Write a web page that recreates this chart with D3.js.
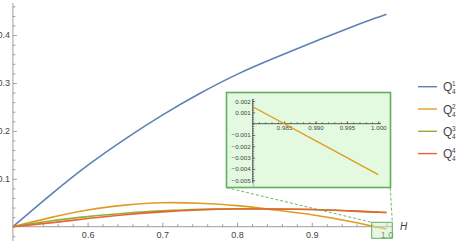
<!DOCTYPE html>
<html>
<head>
<meta charset="utf-8">
<script src="https://cdn.jsdelivr.net/npm/d3@7"></script>
<style>
  body { margin: 0; background: #fff; }
  svg { display: block; font-family: "Liberation Sans", Arial, sans-serif; }
</style>
</head>
<body>
<div id="chart"></div>
<script>
  (() => {
    // H grid and the four curves
    const hValues = [0.5, 0.55, 0.6, 0.65, 0.7, 0.75, 0.8, 0.85, 0.9, 0.95, 0.98, 0.99, 1.0];
    const q1 = [0, 0.066, 0.128, 0.183, 0.233, 0.278, 0.318, 0.352, 0.384, 0.415, 0.4325, 0.438, 0.4435];
    const q2 = [0, 0.019, 0.035, 0.045, 0.050, 0.049, 0.044, 0.035, 0.025, 0.0115, 0.0015, -0.0015, -0.0045];
    const q3 = [0, 0.012, 0.021, 0.028, 0.033, 0.0365, 0.0375, 0.037, 0.036, 0.033, 0.031, 0.0302, 0.0295];
    const q4 = [0, 0.008, 0.017, 0.025, 0.031, 0.035, 0.0368, 0.037, 0.036, 0.033, 0.031, 0.0302, 0.0295];
    const seriesNames = ['1', '2', '3', '4'];
    const colors = ['#5E81B5', '#E19C24', '#8FB032', '#EB6235'];

    const xTicks = [0.6, 0.7, 0.8, 0.9, 1.0];
    const yTicks = [0.1, 0.2, 0.3, 0.4];
    const insetXTicks = [0.985, 0.99, 0.995, 1.0];
    const insetYTicks = [0.002, 0.001, -0.001, -0.002, -0.003, -0.004, -0.005];

    const W = 463, H = 242;
    const svg = d3.select('#chart').append('svg').attr('width', W).attr('height', H);

    let x = d3.scaleLinear().domain([0.5, 1.0]).range([12.9, 386.5]);
    let y = d3.scaleLinear().domain([0, 0.4]).range([226.7, 35.1]);

    let series = [q1, q2, q3, q4].map((vals, i) => ({
      name: seriesNames[i], color: colors[i],
      points: vals.map((v, j) => [hValues[j], v])
    }));

    // main axes
    const axisColor = '#b0b0b0';
    svg.append('line').attr('x1', x(0.5)).attr('x2', 393).attr('y1', y(0)).attr('y2', y(0))
      .attr('stroke', axisColor).attr('stroke-width', 1.2);
    svg.append('line').attr('x1', x(0.5)).attr('x2', x(0.5)).attr('y1', 3).attr('y2', 241)
      .attr('stroke', axisColor).attr('stroke-width', 1.2);

    let minorX = d3.range(0.52, 1.001, 0.02).filter(t => Math.abs(t * 10 - Math.round(t * 10)) > 0.01);
    let minorY = d3.range(-0.02, 0.47, 0.02).filter(t => Math.abs(t * 10 - Math.round(t * 10)) > 0.01);

    function styleAxis(g) {
      g.select('.domain').remove();
      g.selectAll('line').attr('stroke', '#888').attr('stroke-width', 0.8);
      g.selectAll('text').attr('fill', '#444').attr('font-size', 9);
    }

    svg.append('g').attr('transform', `translate(0,${y(0)})`)
      .call(d3.axisBottom(x).tickValues(minorX).tickSize(-2.5).tickFormat(''))
      .call(styleAxis);
    svg.append('g').attr('transform', `translate(0,${y(0)})`)
      .call(d3.axisBottom(x).tickValues(xTicks).tickSize(-4).tickPadding(5).tickFormat(d3.format('.1f')))
      .call(styleAxis);
    svg.append('g').attr('transform', `translate(${x(0.5)},0)`)
      .call(d3.axisLeft(y).tickValues(minorY).tickSize(-2.5).tickFormat(''))
      .call(styleAxis);
    svg.append('g').attr('transform', `translate(${x(0.5)},0)`)
      .call(d3.axisLeft(y).tickValues(yTicks).tickSize(-4).tickPadding(3).tickFormat(d3.format('.1f')))
      .call(styleAxis);

    svg.append('text').attr('x', 400).attr('y', 229.5).text('H')
      .attr('font-size', 10).attr('font-style', 'italic').attr('fill', '#444');

    // curves
    let line = d3.line().x(d => x(d[0])).y(d => y(d[1])).curve(d3.curveNatural);
    series.forEach(s => {
      svg.append('path').attr('d', line(s.points)).attr('fill', 'none')
        .attr('stroke', s.color).attr('stroke-width', 1.6);
    });

    // zoom box near H = 1 and the connectors
    const green = '#62ad5e';
    svg.append('rect').attr('x', 371.7).attr('y', 222.3).attr('width', 20.6).attr('height', 16)
      .attr('fill', 'rgba(200,240,190,0.45)').attr('stroke', green).attr('stroke-width', 1);
    svg.append('line').attr('x1', 226.7).attr('y1', 187.7).attr('x2', 371.7).attr('y2', 222.3)
      .attr('stroke', green).attr('stroke-dasharray', '3,2').attr('stroke-width', 0.9);
    svg.append('line').attr('x1', 390.3).attr('y1', 187.7).attr('x2', 392.3).attr('y2', 222.3)
      .attr('stroke', green).attr('stroke-dasharray', '3,2').attr('stroke-width', 0.9);

    // inset
    svg.append('rect').attr('x', 226.5).attr('y', 92.5).attr('width', 164).attr('height', 95)
      .attr('fill', '#e3fae0').attr('stroke', green).attr('stroke-width', 1.6);

    let ix = d3.scaleLinear().domain([0.98, 1.0]).range([252.7, 378.3]);
    let iy = d3.scaleLinear().domain([0, -0.005]).range([123.7, 180.2]);

    svg.append('line').attr('x1', ix(0.98)).attr('x2', 381).attr('y1', iy(0)).attr('y2', iy(0))
      .attr('stroke', '#333').attr('stroke-width', 0.8);
    svg.append('line').attr('x1', ix(0.98)).attr('x2', ix(0.98)).attr('y1', 99).attr('y2', 183)
      .attr('stroke', '#333').attr('stroke-width', 0.8);

    function styleInset(g) {
      g.select('.domain').remove();
      g.selectAll('line').attr('stroke', '#333').attr('stroke-width', 0.6);
      g.selectAll('text').attr('fill', '#444').attr('font-size', 6.2);
    }
    let iMinorX = d3.range(0.981, 1.0005, 0.001);
    let iMinorY = d3.range(-0.0054, 0.00221, 0.0002);
    svg.append('g').attr('transform', `translate(0,${iy(0)})`)
      .call(d3.axisBottom(ix).tickValues(iMinorX).tickSize(-1.5).tickFormat(''))
      .call(styleInset);
    svg.append('g').attr('transform', `translate(0,${iy(0)})`)
      .call(d3.axisBottom(ix).tickValues(insetXTicks).tickSize(-2.5).tickPadding(2).tickFormat(d3.format('.3f')))
      .call(styleInset);
    svg.append('g').attr('transform', `translate(${ix(0.98)},0)`)
      .call(d3.axisLeft(iy).tickValues(iMinorY).tickSize(-1.5).tickFormat(''))
      .call(styleInset);
    svg.append('g').attr('transform', `translate(${ix(0.98)},0)`)
      .call(d3.axisLeft(iy).tickValues(insetYTicks).tickSize(-2.5).tickPadding(2).tickFormat(d3.format('.3f')))
      .call(styleInset);

    let insetPts = series[1].points.filter(d => d[0] >= 0.98);
    let iline = d3.line().x(d => ix(d[0])).y(d => iy(d[1]));
    svg.append('path').attr('d', iline(insetPts)).attr('fill', 'none')
      .attr('stroke', colors[1]).attr('stroke-width', 1.4);

    // legend
    let legend = svg.append('g');
    series.forEach((s, i) => {
      let ly = 86.7 + i * 22.3;
      legend.append('line').attr('x1', 418).attr('x2', 437).attr('y1', ly).attr('y2', ly)
        .attr('stroke', s.color).attr('stroke-width', 1.4);
      legend.append('text').attr('x', 443).attr('y', ly + 4.5).text('Q')
        .attr('font-size', 12).attr('fill', '#444');
      legend.append('text').attr('x', 452).attr('y', ly - 0.5).text(s.name)
        .attr('font-size', 6.5).attr('fill', '#444');
      legend.append('text').attr('x', 452).attr('y', ly + 7.5).text('4')
        .attr('font-size', 6.5).attr('fill', '#444');
    });
  })();
</script>
</body>
</html>
